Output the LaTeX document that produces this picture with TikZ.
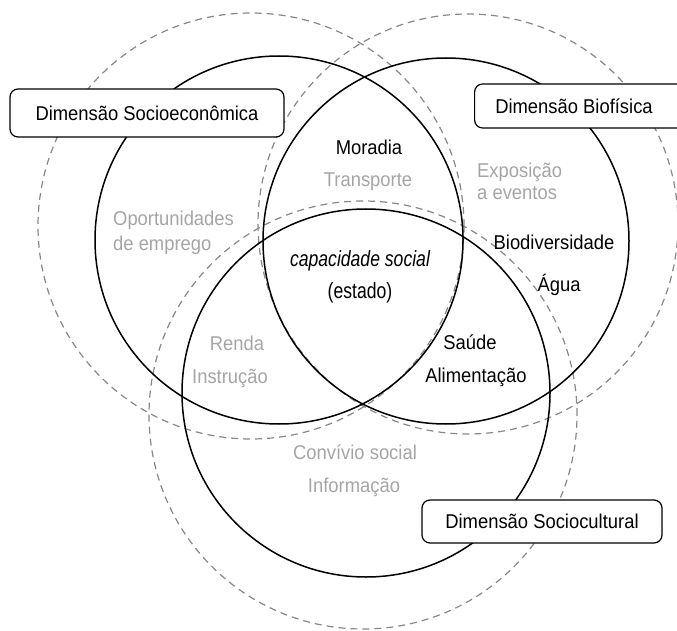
\documentclass[tikz,border=0pt]{standalone}
\usepackage{fontspec}
\setmainfont{Liberation Sans}
\newfontfamily\narrowsans[FakeStretch=0.92]{Liberation Sans}
\newfontfamily\tallsans[FakeStretch=0.80]{Liberation Sans}
\definecolor{txtgray}{RGB}{165,165,165}
\definecolor{dashgray}{RGB}{135,135,135}
\tikzset{
  solidring/.style={draw=black,line width=1.5pt},
  dashring/.style={draw=dashgray,line width=1.2pt,dash pattern=on 7pt off 5pt},
  dimbox/.style={draw=black,fill=white,line width=1.2pt,rounded corners=8pt,inner sep=0pt},
  blacklbl/.style={font=\narrowsans\fontsize{20}{21}\selectfont,text=black,inner sep=0pt},
  graylbl/.style={font=\narrowsans\fontsize{20}{21}\selectfont,text=txtgray,inner sep=0pt},
  centerlbl/.style={font=\tallsans\fontsize{22}{23}\selectfont,text=black,inner sep=0pt}
}
\begin{document}
\begin{tikzpicture}[x=1pt,y=-1pt]
\useasboundingbox (0,0) rectangle (677,631);
\clip (0,0) rectangle (677,631);
% dashed outer circles
\draw[dashring] (251,226) circle[radius=213pt];
\draw[dashring] (468,224) circle[radius=210pt];
\draw[dashring] (363,415) circle[radius=214pt];
% solid circles
\draw[solidring] (279,240) circle[radius=184pt];
\draw[solidring] (446,241) circle[radius=183pt];
\draw[solidring] (366,393) circle[radius=184pt];
% dimension boxes
\node[dimbox,minimum width=274pt,minimum height=48pt] (bse) at (147,113) {};
\node[blacklbl] (tse) at (147,113) {Dimensão Socioeconômica};
\node[dimbox,minimum width=220pt,minimum height=44pt,anchor=west] (bbf) at (474,106) {};
\node[blacklbl] (tbf) at (574,106) {Dimensão Biofísica};
\node[dimbox,minimum width=240pt,minimum height=43pt] (bsc) at (542,521.5) {};
\node[blacklbl] (tsc) at (542,521.5) {Dimensão Sociocultural};
% labels
\node[blacklbl] (morad) at (369,147) {Moradia};
\node[graylbl] (transp) at (368,182) {Transporte};
\node[graylbl,anchor=west] (expo1) at (477,172) {Exposição};
\node[graylbl,anchor=west] (expo2) at (477,193) {a eventos};
\node[graylbl,anchor=west] (oport1) at (113,220) {Oportunidades};
\node[graylbl,anchor=west] (oport2) at (113,245) {de emprego};
\node[centerlbl] (cap) at (360,261) {\itshape capacidade social};
\node[centerlbl] (est) at (360,293) {(estado)};
\node[blacklbl] (biod) at (554,242) {Biodiversidade};
\node[blacklbl] (agua) at (559,285) {Água};
\node[blacklbl] (saude) at (470,342) {Saúde};
\node[blacklbl] (alim) at (476,377) {Alimentação};
\node[graylbl] (renda) at (237,343) {Renda};
\node[graylbl] (instr) at (230,378) {Instrução};
\node[graylbl] (conv) at (355,452) {Convívio social};
\node[graylbl] (info) at (354,487) {Informação};
\end{tikzpicture}
\end{document}
